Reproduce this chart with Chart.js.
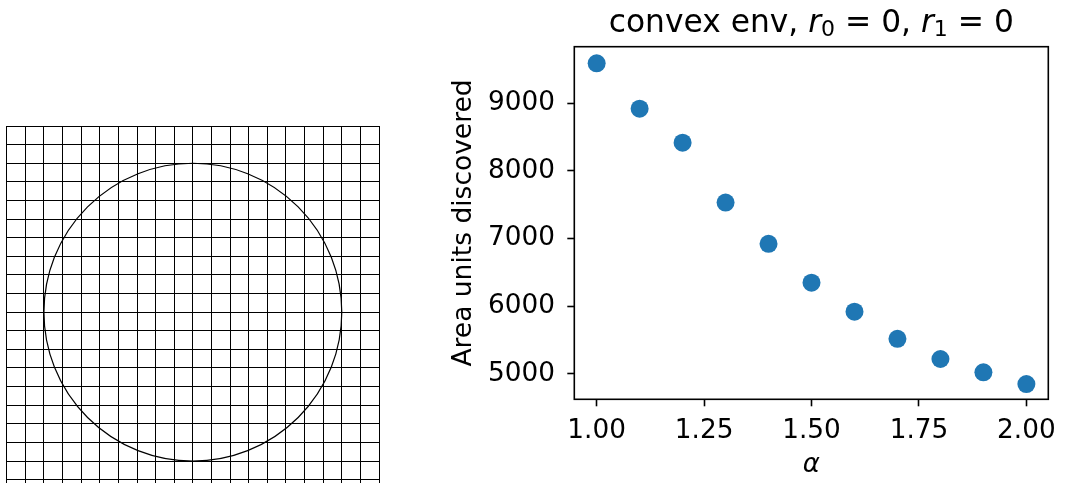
<!DOCTYPE html>
<html>
<head>
<meta charset="utf-8">
<script src="https://cdn.jsdelivr.net/npm/chart.js@4.4.1/dist/chart.umd.min.js"></script>
<style>
  html, body { margin: 0; padding: 0; width: 1077px; height: 483px; overflow: hidden; background: #fff; }
  #gridWrap { position: absolute; left: 0; top: 0; width: 400px; height: 510px; }
  #scatterWrap { position: absolute; left: 440px; top: 0; width: 637px; height: 500px; }
  canvas { display: block; }
</style>
</head>
<body>
<div id="gridWrap"><canvas id="gridChart" width="400" height="510"></canvas></div>
<div id="scatterWrap"><canvas id="scatterChart" width="637" height="500"></canvas></div>
<script>
// Lattice of unit cells with the exploration circle on top
const gridCells = 20;
const circleCenter = [10, 10];
const circleRadius = 8;

// Area units discovered for each alpha
const alphaValues = [1.0, 1.1, 1.2, 1.3, 1.4, 1.5, 1.6, 1.7, 1.8, 1.9, 2.0];
const areaUnits   = [9591, 8920, 8418, 7532, 6922, 6347, 5919, 5518, 5219, 5022, 4849];
const alphaTicks  = [1.0, 1.25, 1.5, 1.75, 2.0];
const areaTicks   = [5000, 6000, 7000, 8000, 9000];

const FONT = 'DejaVu Sans';

// ---------- left panel: unit grid + circle ----------
const cellTicks = [];
for (let i = 0; i <= gridCells; i++) cellTicks.push(i);

const circlePlugin = {
  id: 'circle',
  afterDraw(chart) {
    const { ctx, scales: { x, y } } = chart;
    const cx = x.getPixelForValue(circleCenter[0]);
    const cy = y.getPixelForValue(circleCenter[1]);
    const r = x.getPixelForValue(circleCenter[0] + circleRadius) - cx;
    ctx.save();
    ctx.beginPath();
    ctx.arc(cx, cy, r, 0, Math.PI * 2);
    ctx.lineWidth = 1.2;
    ctx.strokeStyle = '#000';
    ctx.stroke();
    ctx.restore();
  }
};

function latticeAxis() {
  return {
    type: 'linear',
    min: 0,
    max: gridCells,
    afterBuildTicks: s => { s.ticks = cellTicks.map(v => ({ value: v })); },
    afterFit: s => { if (s.isHorizontal()) s.height = 0; else s.width = 0; },
    grid: { color: '#000', lineWidth: 1, drawTicks: false },
    border: { display: true, color: '#000', width: 1 },
    ticks: { display: false }
  };
}

new Chart(document.getElementById('gridChart'), {
  type: 'scatter',
  data: { datasets: [] },
  options: {
    responsive: false,
    animation: false,
    events: [],
    layout: { padding: { left: 6.7, top: 126, right: 21, bottom: 11.7 } },
    plugins: { legend: { display: false }, tooltip: { enabled: false } },
    scales: { x: latticeAxis(), y: latticeAxis() }
  },
  plugins: [circlePlugin]
});

// ---------- right panel: scatter of area vs alpha ----------
const framePlugin = {
  id: 'frame',
  afterDraw(chart) {
    const { ctx, chartArea: a } = chart;
    ctx.save();
    ctx.lineWidth = 1.6;
    ctx.strokeStyle = '#000';
    ctx.strokeRect(a.left, a.top, a.right - a.left, a.bottom - a.top);
    ctx.restore();
  }
};

// Title with italic r and subscripts
const titlePlugin = {
  id: 'mathTitle',
  afterDraw(chart) {
    const { ctx, chartArea: a } = chart;
    const main = `31.3px "${FONT}"`;
    const ital = `italic 31.3px "${FONT}"`;
    const sub = `22px "${FONT}"`;
    const parts = [
      { t: 'convex env, ', f: main, dy: 0 },
      { t: 'r', f: ital, dy: 0 },
      { t: '0', f: sub, dy: 4 },
      { t: ' = 0, ', f: main, dy: 0 },
      { t: 'r', f: ital, dy: 0 },
      { t: '1', f: sub, dy: 4 },
      { t: ' = 0', f: main, dy: 0 }
    ];
    ctx.save();
    ctx.fillStyle = '#000';
    ctx.textBaseline = 'alphabetic';
    ctx.textAlign = 'left';
    let total = 0;
    parts.forEach(p => { ctx.font = p.f; p.w = ctx.measureText(p.t).width; total += p.w; });
    let x = (a.left + a.right) / 2 - total / 2;
    const baseY = 32.3;
    parts.forEach(p => {
      ctx.font = p.f;
      ctx.fillText(p.t, x, baseY + p.dy);
      x += p.w;
    });
    ctx.restore();
  }
};

const tickGrid = { display: true, drawOnChartArea: false, drawTicks: true, tickLength: 7, tickWidth: 1.6, tickColor: '#000', color: '#000' };

new Chart(document.getElementById('scatterChart'), {
  type: 'scatter',
  data: {
    datasets: [{
      data: alphaValues.map((a, i) => ({ x: a, y: areaUnits[i] })),
      backgroundColor: '#1f77b4',
      borderColor: '#1f77b4',
      borderWidth: 0,
      pointRadius: 9,
      pointHoverRadius: 9
    }]
  },
  options: {
    responsive: false,
    animation: false,
    events: [],
    layout: { padding: { left: 0, top: 46.7, right: 28.7, bottom: 0 } },
    plugins: { legend: { display: false }, tooltip: { enabled: false } },
    scales: {
      x: {
        type: 'linear',
        min: 0.948,
        max: 2.051,
        afterBuildTicks: s => { s.ticks = alphaTicks.map(v => ({ value: v })); },
        afterFit: s => { s.height = 100.7; },
        grid: tickGrid,
        border: { display: false },
        ticks: {
          color: '#000',
          font: { family: FONT, size: 26.3 },
          padding: 9.3,
          maxRotation: 0,
          autoSkip: false,
          callback: v => Number(v).toFixed(2)
        },
        title: {
          display: true,
          text: 'α',
          color: '#000',
          font: { family: FONT, size: 26, style: 'italic' },
          padding: { top: 0, bottom: 18.8 }
        }
      },
      y: {
        type: 'linear',
        min: 4623,
        max: 9837,
        afterBuildTicks: s => { s.ticks = areaTicks.map(v => ({ value: v })); },
        afterFit: s => { s.width = 134.3; },
        grid: tickGrid,
        border: { display: false },
        ticks: {
          color: '#000',
          font: { family: FONT, size: 26.3 },
          padding: 12.3,
          autoSkip: false,
          callback: v => String(v)
        },
        title: {
          display: true,
          text: 'Area units discovered',
          color: '#000',
          font: { family: FONT, size: 26.5 },
          padding: { top: 8.5, bottom: 0 }
        }
      }
    }
  },
  plugins: [framePlugin, titlePlugin]
});
</script>
</body>
</html>
